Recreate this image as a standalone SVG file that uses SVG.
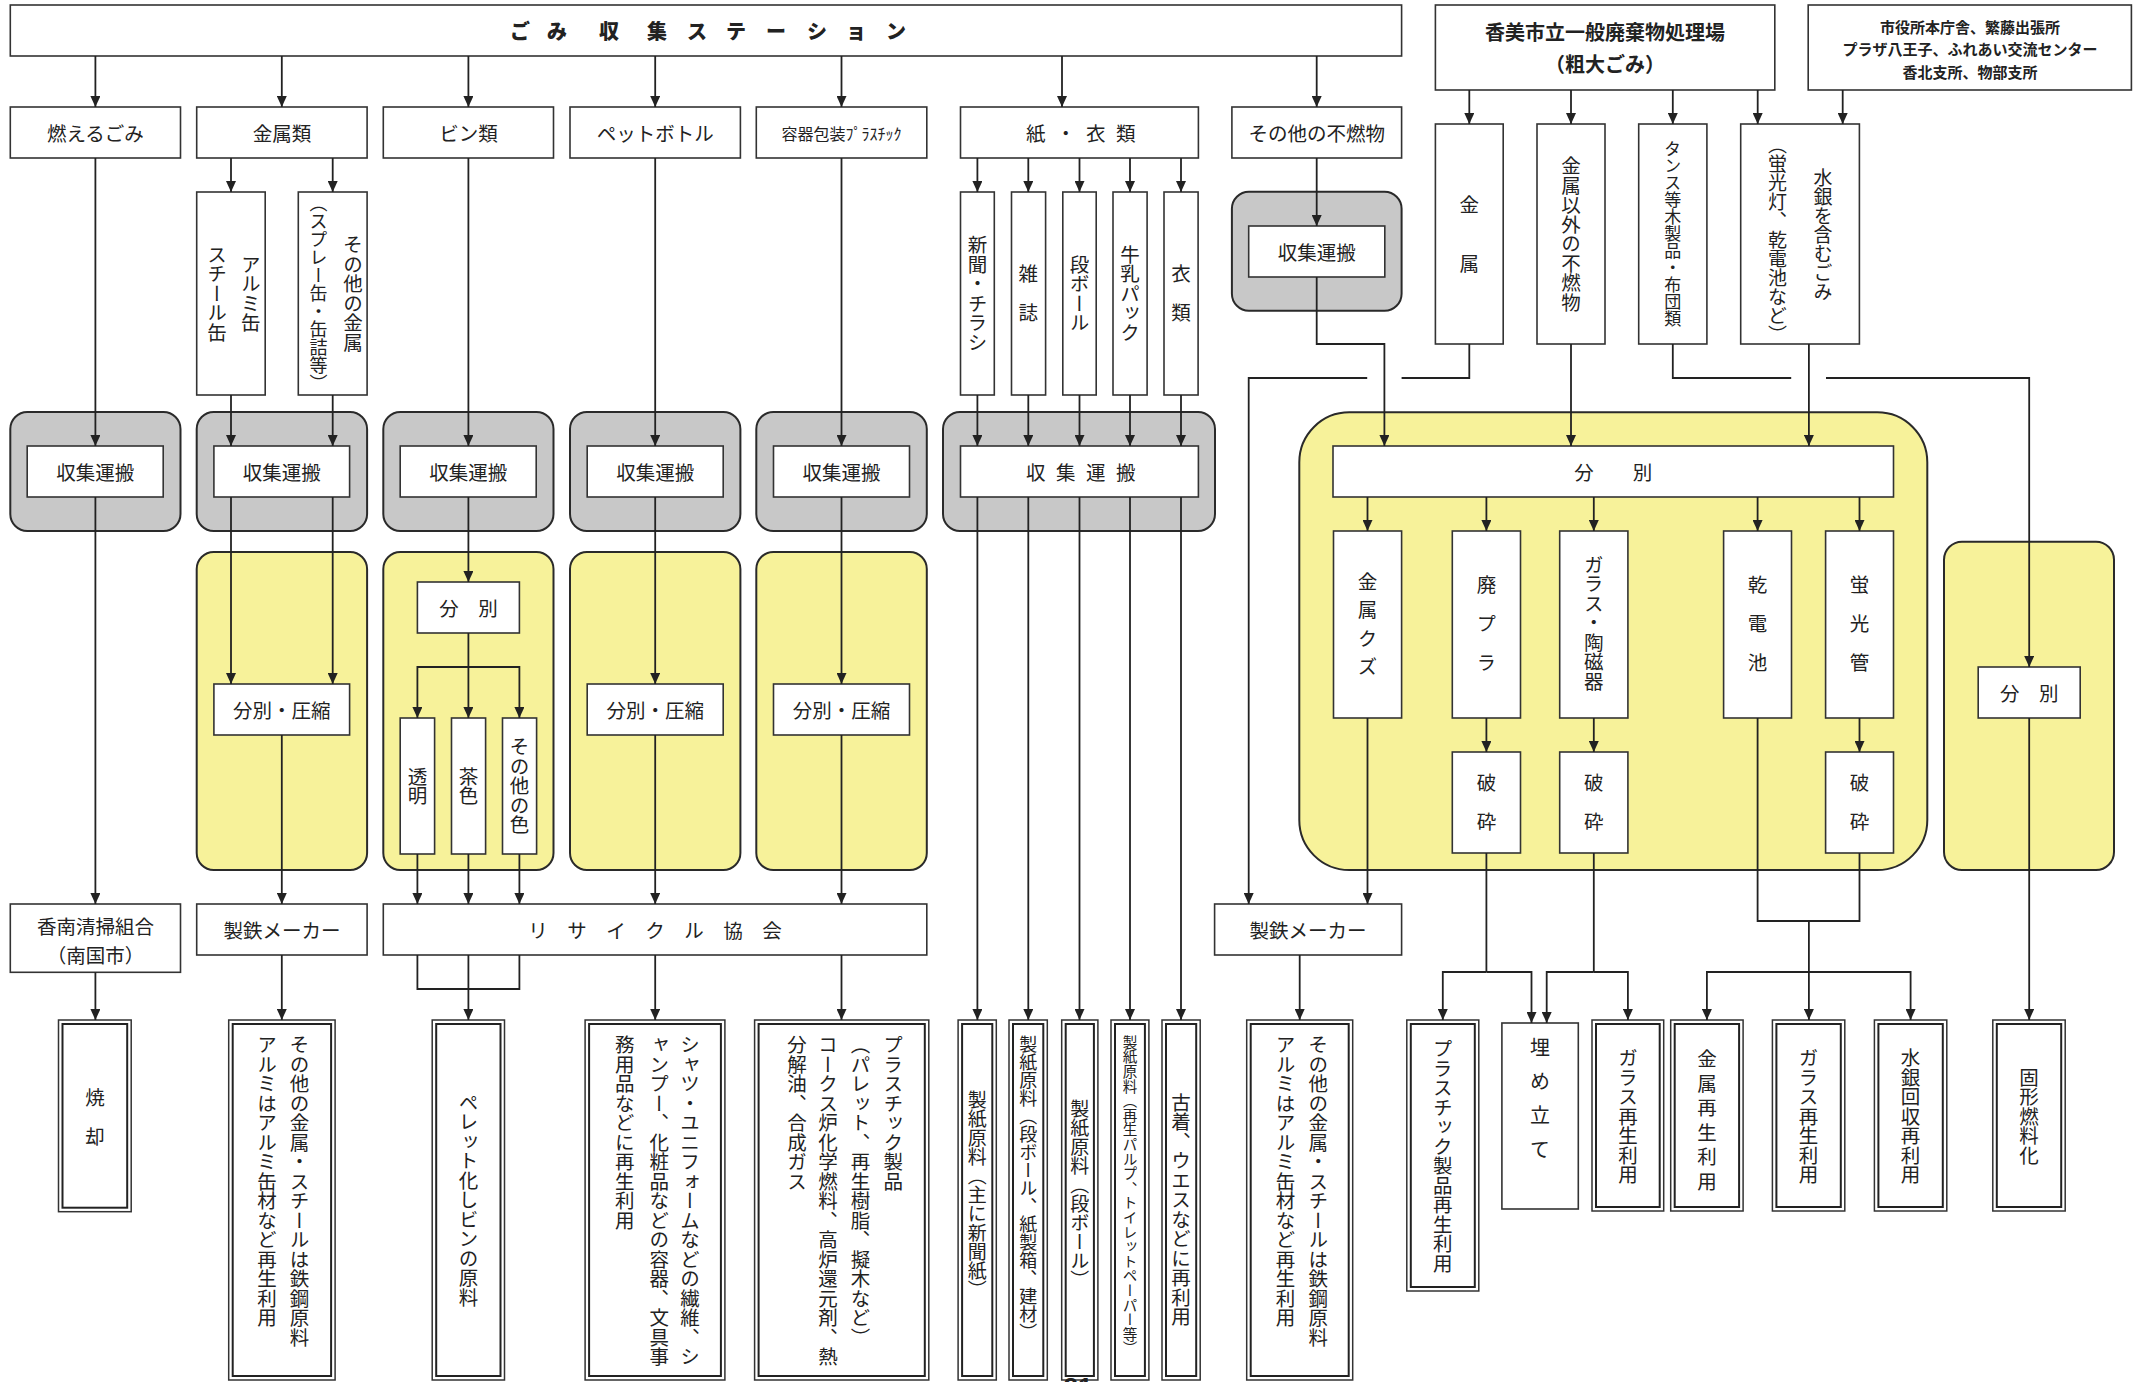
<svg xmlns="http://www.w3.org/2000/svg" width="2146" height="1382" viewBox="0 0 2146 1382">
<style>
.bx{fill:#fff;stroke:#333;stroke-width:1.6}
.gy{fill:#c8c8c8;stroke:#2a2a2a;stroke-width:2}
.yl{fill:#f7f29a;stroke:#2a2a2a;stroke-width:2}
.dbo{fill:#fff;stroke:#333;stroke-width:1.5}
.dbi{fill:none;stroke:#222;stroke-width:2}
text{font-family:"Noto Sans CJK JP","Noto Sans CJK SC",sans-serif;fill:#222;font-size:19.5px}
.h{text-anchor:middle;dominant-baseline:central}
.v{writing-mode:vertical-rl;text-anchor:middle}
.vs{writing-mode:vertical-rl;text-anchor:start}
.bd{font-weight:bold}
#connectors path{fill:none;stroke:#222;stroke-width:1.8}
#connectors path.ar{marker-end:url(#ah)}
</style>
<defs>
<marker id="ah" markerUnits="userSpaceOnUse" markerWidth="11" markerHeight="10" refX="11" refY="5" orient="auto"><path d="M0,0L11,5L0,10z" fill="#222"/></marker>
</defs>
<rect width="2146" height="1382" fill="#fff"/>

<!-- top row -->
<g id="n-station"><rect class="bx" x="10.3" y="5" width="1391.3" height="51"/><text class="bd" style="font-size:20px;font-weight:900;dominant-baseline:central" x="510 547 599 647 687 726 766 807 846 886" y="30">ごみ収集ステーション</text></g>
<g id="n-kami-plant"><rect class="bx" x="1435.4" y="5" width="339.4" height="85"/><text class="h bd" x="1605" y="31.7" style="font-size:20px">香美市立一般廃棄物処理場</text><text class="h bd" x="1605" y="63" style="font-size:20px">（粗大ごみ）</text></g>
<g id="n-cityhall"><rect class="bx" x="1808.2" y="5" width="323.2" height="85"/><text class="h bd" x="1970" y="26.7" style="font-size:15px">市役所本庁舎、繁藤出張所</text><text class="h bd" x="1970" y="48.3" style="font-size:15px">プラザ八王子、ふれあい交流センター</text><text class="h bd" x="1970" y="71" style="font-size:15px">香北支所、物部支所</text></g>

<!-- row 1 categories -->
<g id="n-moeru"><rect class="bx" x="10.3" y="107" width="170.2" height="51"/><text class="h" x="95.4" y="132.5">燃えるごみ</text></g>
<g id="n-kinzoku"><rect class="bx" x="196.7" y="107" width="170.4" height="51"/><text class="h" x="281.9" y="132.5">金属類</text></g>
<g id="n-bin"><rect class="bx" x="383.3" y="107" width="170.2" height="51"/><text class="h" x="468.4" y="132.5">ビン類</text></g>
<g id="n-pet"><rect class="bx" x="570" y="107" width="170.4" height="51"/><text class="h" x="655.2" y="132.5">ペットボトル</text></g>
<g id="n-youki"><rect class="bx" x="756.3" y="107" width="170.5" height="51"/><text class="h" x="841.5" y="132.5" style="font-size:16px">容器包装ﾌﾟﾗｽﾁｯｸ</text></g>
<g id="n-kami"><rect class="bx" x="960.5" y="107" width="237.9" height="51"/><text style="dominant-baseline:central" x="1026 1056 1086 1116" y="132.5">紙・衣類</text></g>
<g id="n-sonota"><rect class="bx" x="1231.9" y="107" width="169.7" height="51"/><text class="h" x="1316.7" y="132.5">その他の不燃物</text></g>

<!-- sub items -->
<g id="n-alumi"><rect class="bx" x="196.7" y="192" width="68.5" height="203"/><text class="v" x="250.7" y="293.5">アルミ缶</text><text class="v" x="217" y="293.5">スチール缶</text></g>
<g id="n-sonota-kinzoku"><rect class="bx" x="298.3" y="192" width="68.8" height="203"/><text class="v" x="353" y="293.5">その他の金属</text><text class="v" x="318.6" y="293.5" style="font-size:18px">（スプレー缶・缶詰等）</text></g>
<g id="n-shinbun"><rect class="bx" x="960.5" y="192" width="33.8" height="203"/><text class="v" x="977.4" y="293.5">新聞・チラシ</text></g>
<g id="n-zasshi"><rect class="bx" x="1011.5" y="192" width="34.1" height="203"/><text class="v" x="1028.3" y="293.5">雑　誌</text></g>
<g id="n-danbo"><rect class="bx" x="1062.8" y="192" width="33.4" height="203"/><text class="v" x="1079.5" y="293.5">段ボール</text></g>
<g id="n-gyunyu"><rect class="bx" x="1113" y="192" width="34.1" height="203"/><text class="v" x="1130" y="293.5">牛乳パック</text></g>
<g id="n-irui"><rect class="bx" x="1164" y="192" width="34.1" height="203"/><text class="v" x="1181" y="293.5">衣　類</text></g>
<g id="n-k-kinzoku"><rect class="bx" x="1435.4" y="124" width="67.8" height="220"/><text class="v" x="1469.3" y="234">金　　属</text></g>
<g id="n-k-funen"><rect class="bx" x="1537" y="124" width="68" height="220"/><text class="v" x="1571" y="234">金属以外の不燃物</text></g>
<g id="n-k-tansu"><rect class="bx" x="1638.7" y="124" width="68.2" height="220"/><text class="v" x="1672.8" y="234" style="font-size:17px">タンス等木製品・布団類</text></g>
<g id="n-suigin"><rect class="bx" x="1740.7" y="124" width="118.7" height="220"/><text class="v" x="1822.9" y="235" style="font-size:19px">水銀を含むごみ</text><text class="v" x="1777.6" y="240" style="font-size:19px">（蛍光灯、乾電池など）</text></g>

<!-- collection (gray) -->
<g id="n-shu-moeru"><rect class="gy" x="10.3" y="412" width="170.2" height="119" rx="17"/><rect class="bx" x="27.2" y="446" width="136" height="51"/><text class="h" x="95.2" y="471.5">収集運搬</text></g>
<g id="n-shu-kinzoku"><rect class="gy" x="196.7" y="412" width="170.4" height="119" rx="17"/><rect class="bx" x="213.9" y="446" width="135.7" height="51"/><text class="h" x="281.8" y="471.5">収集運搬</text></g>
<g id="n-shu-bin"><rect class="gy" x="383.3" y="412" width="170.2" height="119" rx="17"/><rect class="bx" x="400.2" y="446" width="136" height="51"/><text class="h" x="468.2" y="471.5">収集運搬</text></g>
<g id="n-shu-pet"><rect class="gy" x="570" y="412" width="170.4" height="119" rx="17"/><rect class="bx" x="587.2" y="446" width="136" height="51"/><text class="h" x="655.2" y="471.5">収集運搬</text></g>
<g id="n-shu-youki"><rect class="gy" x="756.3" y="412" width="170.5" height="119" rx="17"/><rect class="bx" x="773.5" y="446" width="136" height="51"/><text class="h" x="841.5" y="471.5">収集運搬</text></g>
<g id="n-shu-kami"><rect class="gy" x="943" y="412" width="272" height="119" rx="17"/><rect class="bx" x="960.5" y="446" width="237.9" height="51"/><text style="dominant-baseline:central" x="1026 1056 1086 1116" y="471.5">収集運搬</text></g>
<g id="n-shu-sonota"><rect class="gy" x="1231.9" y="191.7" width="169.7" height="119" rx="17"/><rect class="bx" x="1248.7" y="226" width="136.1" height="51"/><text class="h" x="1316.7" y="251.5">収集運搬</text></g>

<!-- sorting (yellow) -->
<g id="n-sort-kinzoku"><rect class="yl" x="196.7" y="552" width="170.4" height="318" rx="17"/><rect class="bx" x="213.9" y="684" width="135.7" height="51"/><text class="h" x="281.8" y="709.5">分別・圧縮</text></g>
<g id="n-sort-bin"><rect class="yl" x="383.3" y="552" width="170.2" height="318" rx="17"/><rect class="bx" x="417.4" y="582" width="102" height="51"/><text class="h" x="468.4" y="607.5">分　別</text></g>
<g id="n-bin-tomei"><rect class="bx" x="400.2" y="718" width="34.4" height="136"/><text class="v" x="417.4" y="786">透明</text></g>
<g id="n-bin-cha"><rect class="bx" x="451.5" y="718" width="34.1" height="136"/><text class="v" x="468.5" y="786">茶色</text></g>
<g id="n-bin-sonota"><rect class="bx" x="502.5" y="718" width="34.1" height="136"/><text class="v" x="519.5" y="786">その他の色</text></g>
<g id="n-sort-pet"><rect class="yl" x="570" y="552" width="170.4" height="318" rx="17"/><rect class="bx" x="587.2" y="684" width="136" height="51"/><text class="h" x="655.2" y="709.5">分別・圧縮</text></g>
<g id="n-sort-youki"><rect class="yl" x="756.3" y="552" width="170.5" height="318" rx="17"/><rect class="bx" x="773.5" y="684" width="136" height="51"/><text class="h" x="841.5" y="709.5">分別・圧縮</text></g>

<g id="n-sort-plant"><rect class="yl" x="1299.3" y="412.3" width="628" height="457.7" rx="50"/><rect class="bx" x="1333" y="446" width="560.5" height="51"/><text class="h" x="1613.3" y="471.5">分　　別</text></g>
<g id="n-kuzu"><rect class="bx" x="1333.5" y="531" width="68.1" height="187"/><text class="v" x="1367.5" y="628.5" style="letter-spacing:9px">金属クズ</text></g>
<g id="n-haipura"><rect class="bx" x="1452.3" y="531" width="68.2" height="187"/><text class="v" x="1486.4" y="624">廃　プ　ラ</text></g>
<g id="n-glass"><rect class="bx" x="1559.7" y="531" width="68.2" height="187"/><text class="v" x="1593.8" y="623">ガラス・陶磁器</text></g>
<g id="n-kandenchi"><rect class="bx" x="1723.6" y="531" width="67.9" height="187"/><text class="v" x="1757.6" y="624">乾　電　池</text></g>
<g id="n-keikoukan"><rect class="bx" x="1825.6" y="531" width="67.9" height="187"/><text class="v" x="1859.5" y="624">蛍　光　管</text></g>
<g id="n-hasai1"><rect class="bx" x="1452.3" y="752" width="68.2" height="101"/><text class="v" x="1486.4" y="802.5">破　砕</text></g>
<g id="n-hasai2"><rect class="bx" x="1559.7" y="752" width="68.2" height="101"/><text class="v" x="1593.8" y="802.5">破　砕</text></g>
<g id="n-hasai3"><rect class="bx" x="1825.6" y="752" width="67.9" height="101"/><text class="v" x="1859.5" y="802.5">破　砕</text></g>
<g id="n-sort-right"><rect class="yl" x="1944" y="541.7" width="170" height="328.3" rx="18"/><rect class="bx" x="1978.2" y="667" width="102" height="51"/><text class="h" x="2029.2" y="692.5">分　別</text></g>

<!-- destinations -->
<g id="n-konan"><rect class="bx" x="10.3" y="904" width="170.2" height="68.3"/><text class="h" x="95.4" y="925">香南清掃組合</text><text class="h" x="95.4" y="954">（南国市）</text></g>
<g id="n-seitetsu1"><rect class="bx" x="196.7" y="904" width="170.4" height="51"/><text class="h" x="281.9" y="929.5">製鉄メーカー</text></g>
<g id="n-recycle"><rect class="bx" x="383.3" y="904" width="543.5" height="51"/><text class="h" x="655" y="929.5">リ　サ　イ　ク　ル　協　会</text></g>
<g id="n-seitetsu2"><rect class="bx" x="1214.6" y="904" width="187" height="51"/><text class="h" x="1308.1" y="929.5">製鉄メーカー</text></g>

<!-- results -->
<g id="r-shoukyaku"><rect class="dbo" x="58.5" y="1020" width="72.7" height="191.7"/><rect class="dbi" x="62.5" y="1024" width="64.7" height="183.7"/><text class="v" x="94.9" y="1117.5">焼　却</text></g>
<g id="r-tekkou1"><rect class="dbo" x="228.7" y="1020" width="106.4" height="360"/><rect class="dbi" x="232.7" y="1024" width="98.4" height="352"/><text class="vs" x="299.6" y="1035">その他の金属・スチールは鉄鋼原料</text><text class="vs" x="266.9" y="1035">アルミはアルミ缶材など再生利用</text></g>
<g id="r-pellet"><rect class="dbo" x="432.2" y="1020" width="72.3" height="360"/><rect class="dbi" x="436.2" y="1024" width="64.3" height="352"/><text class="v" x="468.4" y="1200">ペレット化しビンの原料</text></g>
<g id="r-shirt"><rect class="dbo" x="585.1" y="1020" width="139.8" height="360"/><rect class="dbi" x="589.1" y="1024" width="131.8" height="352"/><text class="vs" x="690.1" y="1035">シャツ・ユニフォームなどの繊維、シ</text><text class="vs" x="659.2" y="1035">ャンプー、化粧品などの容器、文具事</text><text class="vs" x="624.7" y="1035">務用品などに再生利用</text></g>
<g id="r-plastic"><rect class="dbo" x="754.6" y="1020" width="174.2" height="360"/><rect class="dbi" x="758.6" y="1024" width="166.2" height="352"/><text class="vs" x="893.3" y="1035">プラスチック製品</text><text class="vs" x="860.6" y="1035">（パレット、再生樹脂、擬木など）</text><text class="vs" x="827.9" y="1035">コークス炉化学燃料、高炉還元剤、熱</text><text class="vs" x="796.9" y="1035">分解油、合成ガス</text></g>
<g id="r-seishi1"><rect class="dbo" x="958.1" y="1020" width="38.2" height="360"/><rect class="dbi" x="962.1" y="1024" width="30.2" height="352"/><text class="v" x="977.2" y="1195" style="font-size:19px">製紙原料（主に新聞紙）</text></g>
<g id="r-seishi2"><rect class="dbo" x="1009" y="1020" width="38.3" height="360"/><rect class="dbi" x="1013" y="1024" width="30.3" height="352"/><text class="vs" x="1028.2" y="1035" style="font-size:18px">製紙原料（段ボール、紙製箱、建材）</text></g>
<g id="r-seishi3"><rect class="dbo" x="1061.7" y="1020" width="36.2" height="360"/><rect class="dbi" x="1065.7" y="1024" width="28.2" height="352"/><text class="v" x="1079.8" y="1194.5" style="font-size:19px">製紙原料（段ボール）</text></g>
<g id="r-seishi4"><rect class="dbo" x="1111" y="1020" width="37.9" height="360"/><rect class="dbi" x="1115" y="1024" width="29.9" height="352"/><text class="vs" x="1130" y="1035" style="font-size:14.6px">製紙原料（再生パルプ、トイレットペーパー等）</text></g>
<g id="r-furugi"><rect class="dbo" x="1162" y="1020" width="38.2" height="360"/><rect class="dbi" x="1166" y="1024" width="30.2" height="352"/><text class="v" x="1181.1" y="1209.5">古着、ウエスなどに再利用</text></g>
<g id="r-tekkou2"><rect class="dbo" x="1246.7" y="1020" width="106" height="360"/><rect class="dbi" x="1250.7" y="1024" width="98" height="352"/><text class="vs" x="1318.3" y="1035">その他の金属・スチールは鉄鋼原料</text><text class="vs" x="1285.6" y="1035">アルミはアルミ缶材など再生利用</text></g>
<g id="r-plasaisei"><rect class="dbo" x="1406.8" y="1020" width="72" height="271"/><rect class="dbi" x="1410.8" y="1024" width="64" height="263"/><text class="v" x="1442.8" y="1156">プラスチック製品再生利用</text></g>
<g id="r-umetate"><rect class="bx" x="1501.9" y="1023" width="76.4" height="186"/><text class="vs" x="1540.1" y="1037" style="font-size:20px;letter-spacing:14px">埋め立て</text></g>
<g id="r-glass1"><rect class="dbo" x="1592" y="1020" width="71.7" height="191"/><rect class="dbi" x="1596" y="1024" width="63.7" height="183"/><text class="v" x="1627.9" y="1116.5">ガラス再生利用</text></g>
<g id="r-kinzoku"><rect class="dbo" x="1670.7" y="1020" width="72.4" height="191"/><rect class="dbi" x="1674.7" y="1024" width="64.4" height="183"/><text class="v" x="1706.9" y="1122.5" style="letter-spacing:5px">金属再生利用</text></g>
<g id="r-glass2"><rect class="dbo" x="1772.4" y="1020" width="72.4" height="191"/><rect class="dbi" x="1776.4" y="1024" width="64.4" height="183"/><text class="v" x="1808.6" y="1116.5">ガラス再生利用</text></g>
<g id="r-suigin"><rect class="dbo" x="1874.4" y="1020" width="72.4" height="191"/><rect class="dbi" x="1878.4" y="1024" width="64.4" height="183"/><text class="v" x="1910.6" y="1116.5">水銀回収再利用</text></g>
<g id="r-kokei"><rect class="dbo" x="1992.8" y="1020" width="72.4" height="191"/><rect class="dbi" x="1996.8" y="1024" width="64.4" height="183"/><text class="v" x="2029" y="1116.5">固形燃料化</text></g>

<g id="connectors">
<path class="ar" d="M95.4,56V107"/><path class="ar" d="M281.8,56V107"/><path class="ar" d="M468.4,56V107"/><path class="ar" d="M655.2,56V107"/><path class="ar" d="M841.5,56V107"/><path class="ar" d="M1062,56V107"/><path class="ar" d="M1316.7,56V107"/>
<path class="ar" d="M1469.3,90V124"/><path class="ar" d="M1571,90V124"/><path class="ar" d="M1672.8,90V124"/><path class="ar" d="M1757.7,90V124"/><path class="ar" d="M1842.7,90V124"/>
<path class="ar" d="M231,158V192"/><path class="ar" d="M332.7,158V192"/>
<path class="ar" d="M977.4,158V192"/><path class="ar" d="M1028.3,158V192"/><path class="ar" d="M1079.5,158V192"/><path class="ar" d="M1130,158V192"/><path class="ar" d="M1181,158V192"/>
<path class="ar" d="M1316.7,158V226"/>
<path class="ar" d="M95.4,158V446"/><path class="ar" d="M231,395V446"/><path class="ar" d="M332.7,395V446"/><path class="ar" d="M468.4,158V446"/><path class="ar" d="M655.2,158V446"/><path class="ar" d="M841.5,158V446"/>
<path class="ar" d="M977.4,395V446"/><path class="ar" d="M1028.3,395V446"/><path class="ar" d="M1079.5,395V446"/><path class="ar" d="M1130,395V446"/><path class="ar" d="M1181,395V446"/>
<path class="ar" d="M95.4,497V904"/>
<path class="ar" d="M231,497V684"/><path class="ar" d="M332.7,497V684"/><path class="ar" d="M281.8,735V904"/>
<path class="ar" d="M468.4,497V582"/><path class="ar" d="M468.4,633V718"/><path class="ar" d="M468.4,667H417.4V718"/><path class="ar" d="M468.4,667H519.4V718"/>
<path class="ar" d="M417.4,854V904"/><path class="ar" d="M468.4,854V904"/><path class="ar" d="M519.4,854V904"/>
<path class="ar" d="M655.2,497V684"/><path class="ar" d="M655.2,735V904"/>
<path class="ar" d="M841.5,497V684"/><path class="ar" d="M841.5,735V904"/>
<path class="ar" d="M977.4,497V1020"/><path class="ar" d="M1028.3,497V1020"/><path class="ar" d="M1079.5,497V1020"/><path class="ar" d="M1130,497V1020"/><path class="ar" d="M1181,497V1020"/>
<path class="ar" d="M1316.7,277V344H1384.4V446"/>
<path d="M1469.3,344V378H1401.6"/><path class="ar" d="M1367.2,378H1248.7V904"/>
<path class="ar" d="M1571,344V446"/>
<path d="M1672.8,344V378H1791.2"/><path class="ar" d="M1826,378H2029.2V667"/>
<path class="ar" d="M1808.9,344V446"/>
<path class="ar" d="M1367.5,497V531"/><path class="ar" d="M1486.4,497V531"/><path class="ar" d="M1593.8,497V531"/><path class="ar" d="M1757.6,497V531"/><path class="ar" d="M1859.5,497V531"/>
<path class="ar" d="M1367.5,718V904"/>
<path class="ar" d="M1486.4,718V752"/><path class="ar" d="M1593.8,718V752"/><path class="ar" d="M1859.5,718V752"/>
<path d="M1757.6,718V921H1859.5V853"/>
<path class="ar" d="M1808.9,921V1020"/><path class="ar" d="M1808.9,972H1706.9V1020"/><path class="ar" d="M1808.9,972H1910.6V1020"/>
<path d="M1486.4,853V972"/><path class="ar" d="M1486.4,972H1442.8V1020"/><path class="ar" d="M1486.4,972H1531.5V1023"/>
<path d="M1593.8,853V972"/><path class="ar" d="M1593.8,972H1546.7V1023"/><path class="ar" d="M1593.8,972H1627.9V1020"/>
<path class="ar" d="M2029.2,718V1020"/>
<path class="ar" d="M95.4,972.3V1020"/><path class="ar" d="M281.8,955V1020"/>
<path d="M417.4,955V989H519.4V955"/><path class="ar" d="M468.4,955V1020"/>
<path class="ar" d="M655.2,955V1020"/><path class="ar" d="M841.5,955V1020"/>
<path class="ar" d="M1299.7,955V1020"/>
</g>
<text x="1078" y="1396" style="font-family:'Liberation Sans',sans-serif;font-size:26px;font-weight:bold;text-anchor:middle">21</text>
</svg>
